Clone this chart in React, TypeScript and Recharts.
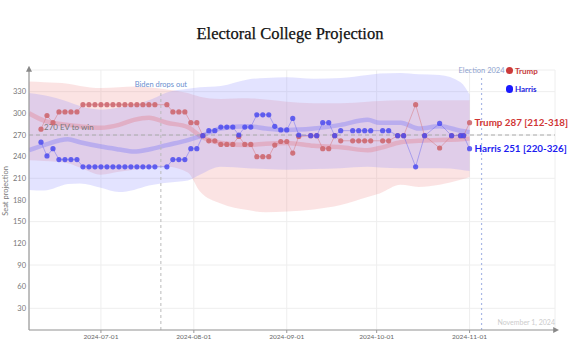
import { Area, CartesianGrid, ComposedChart, Line, ReferenceLine, XAxis, YAxis } from "recharts";

const SANS = 'Lato, "Noto Sans", sans-serif';
const RED = "#cd6870";
const BLUE = "#4b4bef";

// x values are days counted from 2024-07-01
const monthTicks = [0, 31, 62, 92, 123];
const monthLabels = ["2024-07-01", "2024-08-01", "2024-09-01", "2024-10-01", "2024-11-01"];
const seatTicks = [30, 60, 90, 120, 150, 180, 210, 240, 270, 300, 330];
const bidenOut = 20;
const electionDay = 127;

const pollDays = [
  -20, -18, -16, -14, -12, -10, -8, -6, -4, -2, 0, 2, 4, 6, 8, 10, 12, 14, 16, 18,
  22, 24, 26, 28, 30, 32, 34, 36, 38, 40, 42, 44, 46, 48, 50, 52, 54, 56, 58, 60, 62, 64, 66,
  70, 72, 74, 76, 78, 80, 84, 86, 88, 90, 94, 96, 99, 101, 105, 108, 113, 117, 120, 121, 123,
];
const trumpSeats = [
  278, 297, 287, 302, 302, 302, 302, 312, 312, 312, 312, 312, 312, 312, 312, 312, 312, 312, 312, 312,
  312, 302, 302, 302, 287, 287, 269, 262, 262, 257, 257, 257, 268, 257, 257, 240, 240, 240, 256, 261, 261, 245, 268,
  269, 269, 251, 251, 269, 262, 262, 262, 262, 262, 262, 262, 269, 269, 312, 269, 252, 269, 269, 269, 287,
];
const harrisSeats = [
  260, 241, 251, 236, 236, 236, 236, 226, 226, 226, 226, 226, 226, 226, 226, 226, 226, 226, 226, 226,
  226, 236, 236, 236, 251, 251, 269, 276, 276, 281, 281, 281, 270, 281, 281, 298, 298, 298, 282, 277, 277, 293, 270,
  269, 269, 287, 287, 269, 276, 276, 276, 276, 276, 276, 276, 269, 269, 226, 269, 286, 269, 269, 269, 251,
];

const bandDays = [-24, -19, -11, -7, 0, 6, 11, 16, 22, 29, 33, 40, 49, 55, 62, 71, 80, 89, 93, 100, 106, 113, 120, 123];
const trumpTrend = [300, 290, 284, 282, 280, 284, 291, 294, 287, 281, 269, 259, 256, 258, 259, 255, 253, 249, 252, 260, 262, 263, 264, 265];
const harrisTrend = [249, 256, 264, 260, 254, 250, 247, 250, 256, 263, 268, 279, 282, 279, 277, 279, 284, 291, 287, 287, 279, 282, 276, 274];
const trumpHigh = [344, 343, 341, 338, 335, 336, 337, 336, 333, 328, 323, 320, 321, 319, 316, 314, 314, 316, 317, 318, 318, 318, 318, 318];
const trumpLow = [235, 234, 231, 225, 215, 219, 222, 224, 226, 218, 192, 175, 166, 163, 164, 167, 173, 184, 189, 201, 198, 201, 208, 212];
const harrisHigh = [328, 325, 316, 310, 305, 308, 312, 318, 329, 334, 336, 338, 347, 349, 350, 348, 349, 353, 355, 356, 354, 353, 343, 326];
const harrisLow = [194, 193, 202, 203, 197, 191, 194, 200, 204, 207, 215, 226, 224, 223, 222, 223, 224, 226, 225, 224, 224, 224, 222, 220];

const pollRows = pollDays.map((day, i) => ({ day, trump: trumpSeats[i], harris: harrisSeats[i] }));
const bandRows = bandDays.map((day, i) => ({
  day,
  trumpBand: [trumpLow[i], trumpHigh[i]],
  harrisBand: [harrisLow[i], harrisHigh[i]],
  trumpTrend: trumpTrend[i],
  harrisTrend: harrisTrend[i],
}));
const last = pollRows.length - 1;
const lastBand = bandRows.length - 1;

const endLabel = (color: string, text: string) => (p: any) =>
  p.index === last ? (
    <text x={p.x + 5} y={p.y} dy={3.5} fill={color} fontSize={9.8} fontWeight={700} fontFamily={SANS}>
      {text}
    </text>
  ) : null;

export default function App() {
  const axisLine = { stroke: "#999", strokeWidth: 1.2 };
  return (
    <div style={{ position: "absolute", left: 0, top: 0, width: 580, height: 357, background: "#fff" }}>
      <svg width={0} height={0} style={{ position: "absolute" }}>
        <defs>
          <marker id="axArrow" viewBox="0 0 10 10" refX="3" refY="5" markerWidth="5" markerHeight="5"
                  orient="auto-start-reverse">
            <path d="M0,0 L10,5 L0,10 z" fill="#888" />
          </marker>
        </defs>
      </svg>
      <div style={{ position: "absolute", top: 23.5, width: 580, textAlign: "center", lineHeight: "20px",
                    fontFamily: '"Liberation Serif", serif', fontSize: 16.5, color: "#111",
                    WebkitTextStroke: "0.25px #111" }}>
        Electoral College Projection
      </div>
      <ComposedChart width={580} height={357} margin={{ top: 70, right: 25, bottom: 7, left: 0 }}>
        <CartesianGrid stroke="#eee" />
        <XAxis type="number" dataKey="day" domain={[-24, 151.5]} allowDataOverflow ticks={monthTicks}
               tickFormatter={(d: number) => monthLabels[monthTicks.indexOf(d)]} height={20}
               tickSize={3} tickMargin={1} stroke="#999"
               axisLine={{ ...axisLine, markerEnd: "url(#axArrow)" }}
               tick={{ fontSize: 6.5, fill: "#666", fontFamily: SANS }} />
        <YAxis type="number" domain={[0, 360]} allowDataOverflow ticks={seatTicks} width={29}
               tickSize={0} tickMargin={3} tickLine={false}
               axisLine={{ ...axisLine, markerStart: "url(#axArrow)" }}
               tick={{ fontSize: 7.5, fill: "#777", fontFamily: SANS }}
               label={() => (
                 <text x={8} y={191} transform="rotate(-90 8 191)" textAnchor="middle" fontSize={7.5}
                       fill="#777" fontFamily={SANS}>Seat projection</text>
               )} />
        <Area data={bandRows} dataKey="trumpBand" type="monotone" stroke="none" fill="#ee8a8a"
              fillOpacity={0.24} isAnimationActive={false} activeDot={false} />
        <Area data={bandRows} dataKey="harrisBand" type="monotone" stroke="none" fill="#8a8aff"
              fillOpacity={0.24} isAnimationActive={false} activeDot={false} />
        <Line data={bandRows} dataKey="trumpTrend" type="monotone" stroke="rgba(225,120,135,0.35)"
              strokeWidth={4.5} dot={false} activeDot={false} isAnimationActive={false} />
        <Line data={bandRows} dataKey="harrisTrend" type="monotone" stroke="rgba(115,115,250,0.35)"
              strokeWidth={4.5} dot={false} activeDot={false} isAnimationActive={false} />
        <ReferenceLine y={270} stroke="#aaa" strokeDasharray="4 3"
                       label={(p: any) => (
                         <text x={p.viewBox.x + 15} y={p.viewBox.y - 5} fontSize={8} fill="#777"
                               fontFamily={SANS}>270 EV to win</text>
                       )} />
        <ReferenceLine segment={[{ x: bidenOut, y: 0 }, { x: bidenOut, y: 328 }]} stroke="#bbb"
                       strokeDasharray="3 3"
                       label={(p: any) => (
                         <text x={p.viewBox.x} y={86.5} textAnchor="middle" fontSize={7.5} fill="#6b8fcf"
                               fontFamily={SANS}>Biden drops out</text>
                       )} />
        <ReferenceLine segment={[{ x: electionDay, y: 0 }, { x: electionDay, y: 353 }]} stroke="#a9b8e6"
                       strokeWidth={1.2} strokeDasharray="2 3"
                       label={(p: any) => (
                         <text x={p.viewBox.x} y={72.5} textAnchor="middle" fontSize={7.5} fill="#8fa3cf"
                               fontFamily={SANS}>Election 2024</text>
                       )} />
        <Line data={pollRows} dataKey="trump" stroke="rgba(215,120,125,0.5)" strokeWidth={1}
              dot={{ r: 2.6, fill: RED, stroke: "none", fillOpacity: 0.9 }} activeDot={false}
              isAnimationActive={false}
              label={endLabel("#d03535",
                `Trump ${trumpSeats[last]} [${trumpLow[lastBand]}-${trumpHigh[lastBand]}]`)} />
        <Line data={pollRows} dataKey="harris" stroke="rgba(100,100,240,0.45)" strokeWidth={1}
              dot={{ r: 2.6, fill: BLUE, stroke: "none", fillOpacity: 0.85 }} activeDot={false}
              isAnimationActive={false}
              label={endLabel("#1c1cf0",
                `Harris ${harrisSeats[last]} [${harrisLow[lastBand]}-${harrisHigh[lastBand]}]`)} />
      </ComposedChart>
      <div style={{ position: "absolute", left: 505.5, top: 66.5, fontFamily: SANS, fontSize: 8, fontWeight: 700 }}>
        <div style={{ display: "flex", alignItems: "center", height: 8, color: "#c63b3b" }}>
          <span style={{ width: 7.5, height: 7.5, borderRadius: "50%", background: "#cc3a3a", marginRight: 2 }} />
          Trump
        </div>
        <div style={{ display: "flex", alignItems: "center", height: 8, marginTop: 10.5, color: "#2323e0" }}>
          <span style={{ width: 7.5, height: 7.5, borderRadius: "50%", background: "#1a1aff", marginRight: 2 }} />
          Harris
        </div>
      </div>
      <div style={{ position: "absolute", right: 25, top: 318, fontFamily: SANS, fontSize: 7, color: "#ccc" }}>
        November 1, 2024
      </div>
    </div>
  );
}
